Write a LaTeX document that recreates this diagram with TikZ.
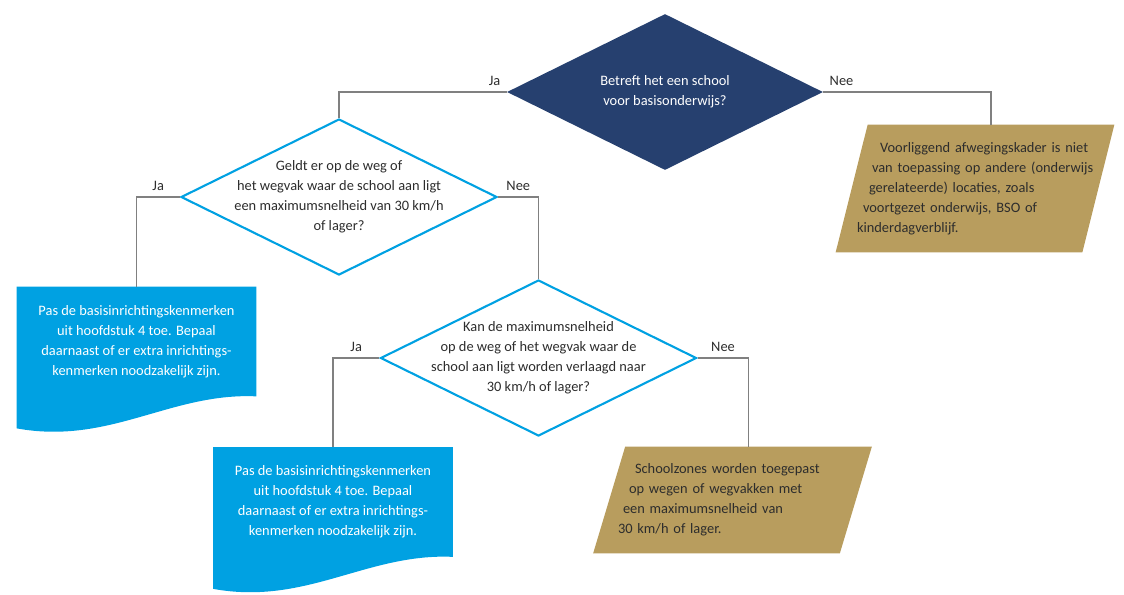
\documentclass[tikz,border=0pt]{standalone}
\usepackage{fontspec}
\setmainfont{Carlito}
\usetikzlibrary{shapes.geometric,positioning,backgrounds}
\definecolor{navy}{RGB}{38,64,111}
\definecolor{skyblue}{RGB}{0,161,226}
\definecolor{gold}{RGB}{184,157,94}
\definecolor{darktext}{RGB}{45,45,45}
\definecolor{linegray}{RGB}{128,128,128}

\begin{document}
\begin{tikzpicture}[every node/.style={font=\fontsize{8.2}{11.4}\selectfont, text=darktext},
  question/.style={diamond, aspect=2, minimum width=6.32cm, minimum height=3.12cm, inner sep=-3mm, align=center},
  ask/.style={question, fill=white, draw=skyblue, line width=1.2pt},
  outcome/.style={text width=5.6cm, align=left, inner ysep=0pt, inner xsep=-3.4mm},
  advice/.style={minimum width=4.78cm, minimum height=2.18cm, align=center, text=white, inner sep=0pt},
  link/.style={draw=linegray, line width=0.6pt}]
\useasboundingbox (0,0) rectangle (22.48,-11.88);

% questions
\node[question, fill=navy, text=white] (q1) at (13.30,-1.84) {Betreft het een school\\voor basisonderwijs?};
\node[ask] (q2) at (6.78,-3.94) {Geldt er op de weg of\\het wegvak waar de school aan ligt\\een maximumsnelheid van 30 km/h\\of lager?};
\node[ask] (q3) at (10.77,-7.16) {Kan de maximumsnelheid\\op de weg of het wegvak waar de\\school aan ligt worden verlaagd naar\\30 km/h of lager?};

% answers
\node[outcome, minimum height=2.54cm] (p1) at (19.50,-3.77) {\hspace*{9mm}Voorliggend afwegingskader is niet\\\hspace*{7.4mm}van toepassing op andere (onderwijs\\\hspace*{6.8mm}gerelateerde) locaties, zoals\\\hspace*{5.6mm}voortgezet onderwijs, BSO of\\\hspace*{4.4mm}kinderdagverblijf.};
\node[outcome, minimum height=2.12cm] (p2) at (14.65,-10.00) {\hspace*{8.5mm}Schoolzones worden toegepast\\\hspace*{7.3mm}op wegen of wegvakken met\\\hspace*{6.1mm}een maximumsnelheid van\\\hspace*{5.1mm}30 km/h of lager.};
\node[advice] (d1) at (2.73,-6.83) {Pas de basisinrichtingskenmerken\\uit hoofdstuk 4 toe. Bepaal\\daarnaast of er extra inrichtings-\\kenmerken noodzakelijk zijn.};
\node[advice] (d2) at (6.66,-10.04) {Pas de basisinrichtingskenmerken\\uit hoofdstuk 4 toe. Bepaal\\daarnaast of er extra inrichtings-\\kenmerken noodzakelijk zijn.};

\begin{scope}[on background layer]
\foreach \n in {p1,p2}
  \fill[gold] ([xshift=3.2mm]\n.north west) -- ([xshift=3.2mm]\n.north east) -- ([xshift=-3.2mm]\n.south east) -- ([xshift=-3.2mm]\n.south west) -- cycle;
\foreach \n in {d1,d2}
  \fill[skyblue] (\n.north west) -- (\n.north east) -- (\n.south east) .. controls +(-1.72,0.08) and +(1.86,-0.34) .. ([yshift=-6.4mm]\n.south west) -- cycle;
\end{scope}

% connectors
\draw[link] (q1.west) node[above left] (ja1) {Ja} -| (q2.north);
\draw[link] (q1.east) node[above right] (nee1) {Nee} -| ([xshift=3.2mm]p1.north);
\draw[link] (q2.west) -| node[pos=0.25, above] (ja2) {Ja} (d1.north);
\draw[link] (q2.east) -| node[pos=0.25, above] (nee2) {Nee} (q3.north);
\draw[link] (q3.west) -| node[pos=0.25, above] (ja3) {Ja} (d2.north);
\draw[link] (q3.east) -| node[pos=0.25, above] (nee3) {Nee} ([xshift=3.2mm]p2.north);
\end{tikzpicture}
\end{document}
